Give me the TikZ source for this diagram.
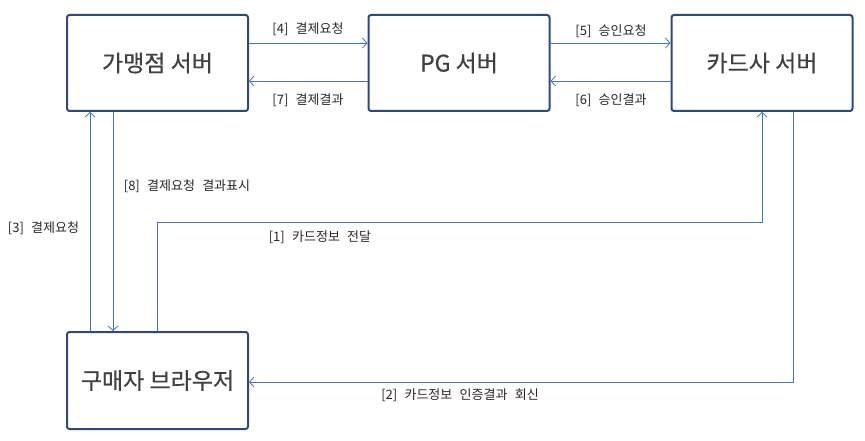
\documentclass[tikz,border=0pt]{standalone}
\usepackage{fontspec}
\setmainfont{Noto Sans CJK KR}
\newfontfamily\boxfont[FakeBold=0.5]{Noto Sans CJK KR}
\newfontfamily\lblfont[WordSpace=2.5]{Noto Sans CJK KR}
\usetikzlibrary{arrows.meta}
\definecolor{boxline}{HTML}{2F4A78}
\definecolor{conn}{HTML}{4472C4}
\definecolor{boxtext}{HTML}{404040}
\tikzset{
  server/.style={draw=boxline, line width=2pt, rounded corners=2.5pt, fill=white,
    minimum width=181pt, minimum height=96pt, inner sep=0pt,
    font=\boxfont\fontsize{23}{26}\selectfont, text=boxtext},
  link/.style={draw=conn, line width=0.9pt, -{Straight Barb[length=4.5pt,width=10pt,line width=0.8pt]}},
  lbl/.style={font=\lblfont\fontsize{13}{15}\selectfont, text=black!85, inner sep=0pt}
}
\begin{document}
\begin{tikzpicture}[x=1pt,y=-1pt]
\useasboundingbox (0,0) rectangle (865,441);
\node[server] (A) at (157.5,63) {가맹점 서버};
\node[server] (PG) at (459,63) {PG 서버};
\node[server] (C) at (762,63) {카드사 서버};
\node[server, minimum height=97pt] (B) at (157.5,380.5) {구매자 브라우저};

\draw[link] ([yshift=20pt]A.east) -- ([yshift=20pt]PG.west);
\draw[link] ([yshift=-18pt]PG.west) -- ([yshift=-18pt]A.east);
\draw[link] ([yshift=20pt]PG.east) -- ([yshift=20pt]C.west);
\draw[link] ([yshift=-18pt]C.west) -- ([yshift=-18pt]PG.east);
\draw[link] ([xshift=-67.5pt]B.north) -- ([xshift=-67.5pt]A.south);
\draw[link] ([xshift=-44.5pt]A.south) -- ([xshift=-44.5pt]B.north);
\draw[link] ([xshift=-0.5pt]B.north) -- ++(0,-109) -| (C.south);
\draw[link] ([xshift=31pt]C.south) |- ([yshift=-1.5pt]B.east);

\node[lbl] (l4) at (308,29) {[4] 결제요청};
\node[lbl] (l7) at (308,100) {[7] 결제결과};
\node[lbl] (l5) at (611,31) {[5] 승인요청};
\node[lbl] (l6) at (611,100) {[6] 승인결과};
\node[lbl] (l3) at (43.5,228) {[3] 결제요청};
\node[lbl] (l8) at (187,186) {[8] 결제요청 결과표시};
\node[lbl] (l1) at (320,237) {[1] 카드정보 전달};
\node[lbl] (l2) at (460,395) {[2] 카드정보 인증결과 회신};
\end{tikzpicture}
\end{document}
